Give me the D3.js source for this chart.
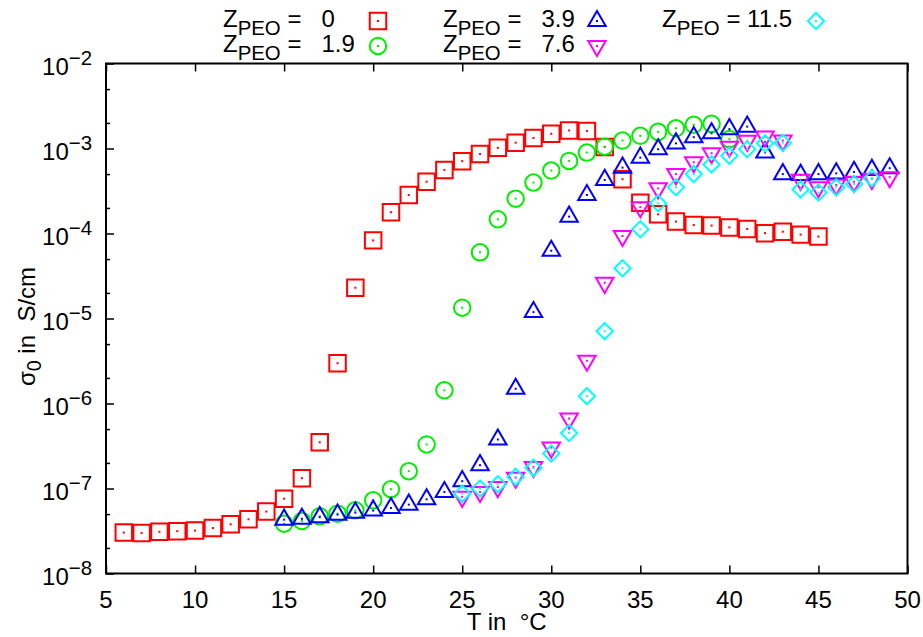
<!DOCTYPE html>
<html><head><meta charset="utf-8">
<script src="https://cdn.jsdelivr.net/npm/d3@7"></script>
<style>
body{margin:0;background:#fff}
svg text{font-family:"Liberation Sans",Arial,Helvetica,sans-serif;fill:#000}
</style>
</head><body>
<svg id="chart" width="923" height="637"></svg>
<script>
// ---- data ----
const seriesNames = ["0", "1.9", "3.9", "7.6", "11.5"];
const seriesColors = ["#ff0000", "#00ee00", "#0000ff", "#ff00ff", "#00ffff"];

const tempZ0 = [6,7,8,9,10,11,12,13,14,15,16,17,18,19,20,21,22,23,24,25,26,27,28,29,30,31,32,33,34,35,36,37,38,39,40,41,42,43,44,45];
const sigmaZ0 = [3.03e-8,3.0e-8,3.1e-8,3.15e-8,3.2e-8,3.43e-8,3.79e-8,4.34e-8,5.35e-8,7.6e-8,1.32e-7,3.5e-7,2.98e-6,2.3e-5,8.3e-5,1.78e-4,2.84e-4,4.07e-4,5.6e-4,7.1e-4,8.6e-4,1.02e-3,1.17e-3,1.33e-3,1.49e-3,1.63e-3,1.61e-3,1.04e-3,4.35e-4,2.3e-4,1.68e-4,1.38e-4,1.26e-4,1.24e-4,1.18e-4,1.13e-4,1.01e-4,1.05e-4,9.7e-5,9.2e-5];

const tempZ19 = [15,16,17,18,19,20,21,22,23,24,25,26,27,28,29,30,31,32,33,34,35,36,37,38,39,40];
const sigmaZ19 = [3.86e-8,4.14e-8,4.71e-8,5.06e-8,5.53e-8,7.26e-8,9.8e-8,1.6e-7,3.3e-7,1.43e-6,1.34e-5,6.0e-5,1.47e-4,2.57e-4,3.97e-4,5.5e-4,7.15e-4,8.95e-4,1.05e-3,1.24e-3,1.41e-3,1.57e-3,1.73e-3,1.9e-3,1.95e-3,1.29e-3];

const tempZ39 = [15,16,17,18,19,20,21,22,23,24,25,26,27,28,29,30,31,32,33,34,35,36,37,38,39,40,41,42,43,44,45,46,47,48,49];
const sigmaZ39 = [4.3e-8,4.4e-8,4.6e-8,4.93e-8,5.2e-8,5.5e-8,5.9e-8,6.46e-8,7.46e-8,9.1e-8,1.22e-7,1.88e-7,3.77e-7,1.49e-6,1.19e-5,6.27e-5,1.58e-4,2.84e-4,4.27e-4,5.96e-4,7.8e-4,9.8e-4,1.15e-3,1.36e-3,1.51e-3,1.69e-3,1.81e-3,9.0e-4,5.0e-4,4.89e-4,5.0e-4,5.1e-4,5.3e-4,5.6e-4,5.86e-4];

const tempZ76 = [25,26,27,28,29,30,31,32,33,34,35,36,37,38,39,40,41,42,43,44,45,46,47,48,49];
const sigmaZ76 = [7.98e-8,9.1e-8,1.04e-7,1.34e-7,1.79e-7,3.03e-7,6.65e-7,3.18e-6,2.63e-5,9.35e-5,2.04e-4,3.4e-4,5.0e-4,6.9e-4,8.8e-4,1.05e-3,1.23e-3,1.38e-3,1.24e-3,4.27e-4,3.5e-4,3.73e-4,4.07e-4,4.4e-4,4.6e-4];

const tempZ115 = [25,26,27,28,29,30,31,32,33,34,35,36,37,38,39,40,41,42,43,44,45,46,47,48];
const sigmaZ115 = [8.7e-8,1.0e-7,1.12e-7,1.37e-7,1.75e-7,2.58e-7,4.5e-7,1.22e-6,7.1e-6,3.9e-5,1.12e-4,2.27e-4,3.5e-4,5.0e-4,6.5e-4,8.2e-4,9.8e-4,1.15e-3,1.17e-3,3.3e-4,3.03e-4,3.5e-4,3.83e-4,4.47e-4];

const xTicks = [5,10,15,20,25,30,35,40,45,50];
const yExponents = [-8,-7,-6,-5,-4,-3,-2];
const xLabel = "T in\u00A0\u00A0\u00B0C";

(function () {
// ---- layout ----
const pL = 106, pR = 907.5, pT = 63.5, pB = 573.5;
const svg = d3.select("#chart");
const x = d3.scaleLinear().domain([5, 50]).range([pL, pR]);
const y = d3.scaleLog().domain([1e-8, 1e-2]).range([pB, pT]);
const FS = 24;
const NB = "\u00A0";

const series = [
  {t: tempZ0, s: sigmaZ0, shape: "square"},
  {t: tempZ19, s: sigmaZ19, shape: "circle"},
  {t: tempZ39, s: sigmaZ39, shape: "tri"},
  {t: tempZ76, s: sigmaZ76, shape: "tridown"},
  {t: tempZ115, s: sigmaZ115, shape: "diamond"}
].map((d, i) => ({...d, name: seriesNames[i], color: seriesColors[i],
  pts: d.t.map((tt, j) => ({T: tt, v: d.s[j]}))}));

const shapePath = {
  square: d3.symbol().type(d3.symbolSquare).size(272)(),
  circle: d3.symbol().type(d3.symbolCircle).size(Math.PI * 68)(),
  tri: d3.symbol().type(d3.symbolTriangle).size(132)(),
  tridown: d3.symbol().type(d3.symbolTriangle).size(132)(),
  diamond: d3.symbol().type(d3.symbolSquare).size(132)()
};
const shapeRot = {square: 0, circle: 0, tri: 0, tridown: 180, diamond: 45};

function drawMarker(g, shape, color) {
  g.append("path").attr("d", shapePath[shape])
    .attr("transform", `rotate(${shapeRot[shape]})`)
    .attr("fill", "none").attr("stroke", color).attr("stroke-width", 2);
  g.append("rect").attr("x", -1).attr("y", -1).attr("width", 2).attr("height", 2)
    .attr("fill", color);
}

// ---- axes ticks ----
const axes = svg.append("g");
axes.append("g").attr("transform", `translate(0,${pB})`)
  .call(d3.axisBottom(x).tickValues(xTicks).tickSize(-8).tickFormat(""))
  .call(g => g.select(".domain").remove())
  .call(g => g.selectAll("line").attr("stroke", "#000").attr("stroke-width", 1.5));
axes.append("g").attr("transform", `translate(0,${pT})`)
  .call(d3.axisTop(x).tickValues(xTicks).tickSize(-8).tickFormat(""))
  .call(g => g.select(".domain").remove())
  .call(g => g.selectAll("line").attr("stroke", "#000").attr("stroke-width", 1.5));
const majorY = yExponents.map(e => Math.pow(10, e));
axes.append("g").attr("transform", `translate(${pL},0)`)
  .call(d3.axisLeft(y).tickValues(majorY).tickSize(-8).tickFormat(""))
  .call(g => g.select(".domain").remove())
  .call(g => g.selectAll("line").attr("stroke", "#000").attr("stroke-width", 1.5));
const minorY = [];
yExponents.slice(0, -1).forEach(e => { minorY.push(2 * Math.pow(10, e), 5 * Math.pow(10, e)); });
axes.append("g").attr("transform", `translate(${pL},0)`)
  .call(d3.axisLeft(y).tickValues(minorY).tickSize(-4).tickFormat(""))
  .call(g => g.select(".domain").remove())
  .call(g => g.selectAll("line").attr("stroke", "#000").attr("stroke-width", 1.5));

// x tick labels
svg.append("g").selectAll("text").data(xTicks).join("text")
  .attr("x", d => x(d)).attr("y", pB + 34)
  .attr("text-anchor", "middle").attr("font-size", FS)
  .text(d => d);

// y tick labels 10^e
const yl = svg.append("g").selectAll("text").data(yExponents).join("text")
  .attr("x", 92).attr("y", d => y(Math.pow(10, d)) + 11)
  .attr("text-anchor", "end").attr("font-size", FS);
yl.append("tspan").text("10");
yl.append("tspan").attr("dy", -10).attr("font-size", FS * 0.85).text(d => "\u2212" + Math.abs(d));

// frame
svg.append("rect").attr("x", pL).attr("y", pT)
  .attr("width", pR - pL).attr("height", pB - pT)
  .attr("fill", "none").attr("stroke", "#000").attr("stroke-width", 2);

// axis titles
svg.append("text").attr("x", (pL + pR) / 2).attr("y", 630)
  .attr("text-anchor", "middle").attr("font-size", FS).text(xLabel);
const yt = svg.append("text").attr("transform", `translate(35,${(pT + pB) / 2 + 8}) rotate(-90)`)
  .attr("text-anchor", "middle").attr("font-size", FS);
yt.append("tspan").text("\u03C3");
yt.append("tspan").attr("dy", 6).attr("font-size", FS * 0.82).text("0");
yt.append("tspan").attr("dy", -6).text(NB + "in" + NB + NB + "S/cm");

// ---- data points ----
const plot = svg.append("g");
series.forEach(s => {
  plot.append("g").selectAll("g").data(s.pts).join("g")
    .attr("transform", d => `translate(${x(d.T)},${y(d.v)})`)
    .each(function() { drawMarker(d3.select(this), s.shape, s.color); });
});

// ---- legend ----
const legCols = [223, 443, 662];
const legMarkX = [378, 597, 816];
const legRows = [27, 52];
const legLabels = ["=" + NB + NB + NB + "0", "=" + NB + NB + NB + "1.9", "=" + NB + NB + NB + "3.9",
                   "=" + NB + NB + NB + "7.6", "=" + NB + "11.5"];
series.forEach((s, i) => {
  const col = Math.floor(i / 2), row = i % 2;
  const t = svg.append("text").attr("x", legCols[col]).attr("y", legRows[row])
    .attr("font-size", FS);
  t.append("tspan").text("Z");
  t.append("tspan").attr("dy", 8).attr("font-size", FS * 0.85).text("PEO");
  t.append("tspan").attr("dy", -8).text(NB + legLabels[i]);
  const g = svg.append("g").attr("transform", `translate(${legMarkX[col]},${legRows[row] - 6})`);
  drawMarker(g, s.shape, s.color);
});
})();
</script>
</body></html>
